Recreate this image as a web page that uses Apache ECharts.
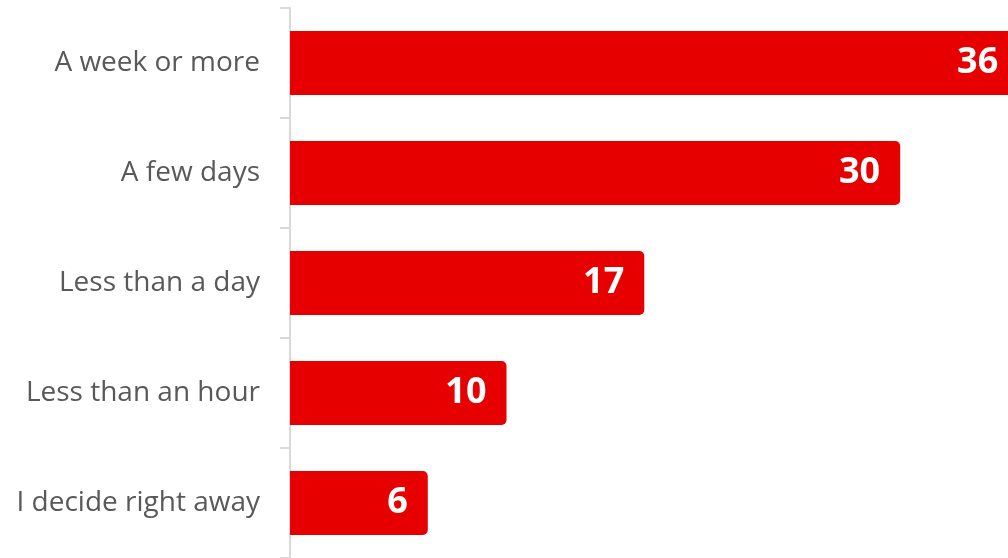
<!DOCTYPE html>
<html>
<head>
<meta charset="utf-8">
<script src="https://cdn.jsdelivr.net/npm/echarts@6/dist/echarts.min.js"></script>
<style>
html,body{margin:0;padding:0;background:#fff;}
#chart{width:1008px;height:558px;}
</style>
</head>
<body>
<div id="chart"></div>
<script>
var categories = ['A week or more', 'A few days', 'Less than a day', 'Less than an hour', 'I decide right away'];
var values = [36, 30, 17, 10, 6];

var chart = echarts.init(document.getElementById('chart'), null, {renderer: 'canvas'});
chart.setOption({
  animation: false,
  grid: {left: 290, right: -89, top: 8, bottom: 0, containLabel: false, outerBoundsMode: 'none'},
  xAxis: {
    type: 'value',
    min: -1,
    max: 40,
    startValue: -1,
    show: false
  },
  yAxis: {
    type: 'category',
    inverse: true,
    data: categories,
    axisLine: {onZero: false, lineStyle: {color: '#d9d9d9', width: 2}},
    axisTick: {show: true, length: 10, lineStyle: {color: '#d9d9d9', width: 2}},
    axisLabel: {
      margin: 30,
      color: '#595959',
      fontFamily: 'Open Sans',
      fontSize: 28
    },
    splitLine: {show: false}
  },
  series: [{
    type: 'bar',
    data: values,
    barWidth: 64,
    clip: false,
    itemStyle: {color: '#e60000', borderRadius: [0, 5, 5, 0]},
    label: {
      show: true,
      position: 'insideRight',
      distance: 20,
      color: '#ffffff',
      fontFamily: 'Open Sans',
      fontWeight: 'bold',
      fontSize: 36
    }
  }]
});
</script>
</body>
</html>
